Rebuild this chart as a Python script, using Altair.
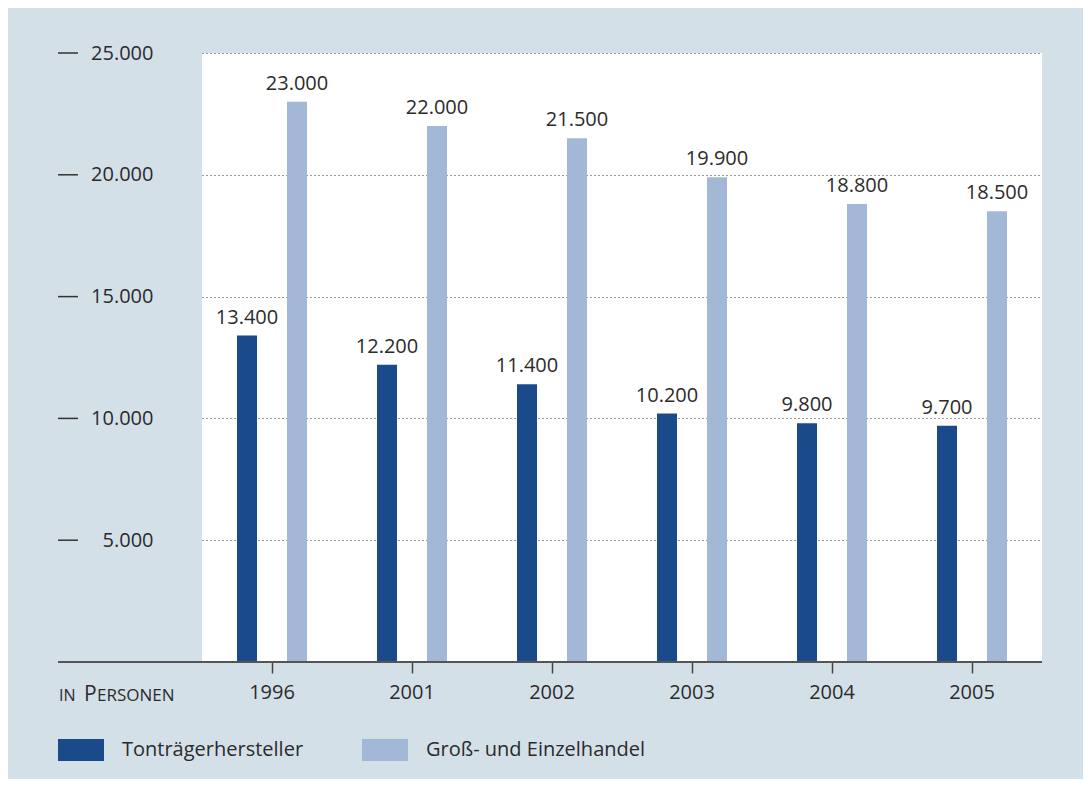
import altair as alt
import pandas as pd

years = ["1996", "2001", "2002", "2003", "2004", "2005"]
series = ["Tonträgerhersteller", "Groß- und Einzelhandel"]
producers = [13400, 12200, 11400, 10200, 9800, 9700]
retail = [23000, 22000, 21500, 19900, 18800, 18500]
y_ticks = [5000, 10000, 15000, 20000, 25000]
colors = ["#1b4a8a", "#a3b8d6"]

FONT = "Open Sans"
TXT = "#2b2b2b"
FS = 20


def de(n):
    return f"{n:,}".replace(",", ".")


rows = []
for i, yr in enumerate(years):
    rows.append({"year": yr, "series": series[0], "value": producers[i], "label": de(producers[i])})
    rows.append({"year": yr, "series": series[1], "value": retail[i], "label": de(retail[i])})
df = pd.DataFrame(rows)

x = alt.X(
    "year:N", sort=years,
    scale=alt.Scale(paddingInner=0, paddingOuter=0),
    axis=alt.Axis(title=None, labelAngle=0, domain=False, ticks=True, tickSize=11,
                  tickColor="#444", tickWidth=1.5, labelPadding=9, labelFontSize=FS,
                  labelFont=FONT, labelColor=TXT, grid=False),
)
xo = alt.XOffset("series:N", sort=series, scale=alt.Scale(paddingInner=0.6, paddingOuter=0.7))
y = alt.Y(
    "value:Q",
    scale=alt.Scale(domain=[0, 25000], nice=False, zero=True),
    axis=alt.Axis(title=None, values=y_ticks, ticks=False, domain=False, labelPadding=49,
                  labelFontSize=FS, labelFont=FONT, labelColor=TXT,
                  labelExpr="replace(format(datum.value, ','), ',', '.')",
                  grid=True, gridDash=[1, 3], gridColor="#333", gridWidth=1),
)
color = alt.Color(
    "series:N", sort=series,
    scale=alt.Scale(domain=series, range=colors),
    legend=alt.Legend(title=None, orient="none", legendX=-144, legendY=674,
                      direction="horizontal", symbolType="M-1,-0.478H1V0.478H-1Z",
                      symbolSize=2116, symbolStrokeWidth=0, symbolOpacity=1,
                      labelFontSize=FS, labelFont=FONT, labelColor=TXT,
                      labelOffset=18, columnPadding=58, padding=0, labelLimit=400),
)

base = alt.Chart(df)
bars = base.mark_bar().encode(x=x, xOffset=xo, y=y, color=color)
labels = base.mark_text(baseline="alphabetic", dy=-12, fontSize=FS, font=FONT, color=TXT).encode(
    x=x, xOffset=xo, y=y, text="label:N"
)

dash_df = pd.DataFrame({"value": y_ticks})
dashes = alt.Chart(dash_df).mark_rule(color="#333", strokeWidth=1.5).encode(
    y=alt.Y("value:Q"), x=alt.value(-144), x2=alt.value(-124)
)

one = pd.DataFrame({"v": [0]})
axis_line = alt.Chart(one).mark_rule(color="#555", strokeWidth=2).encode(
    x=alt.value(-144), x2=alt.value(840), y=alt.value(609)
)
t1 = alt.Chart(one).mark_text(align="left", baseline="alphabetic", font=FONT, color=TXT, fontSize=16).encode(
    x=alt.value(-143), y=alt.value(648), text=alt.value("IN")
)
t2 = alt.Chart(one).mark_text(align="left", baseline="alphabetic", font=FONT, color=TXT, fontSize=21).encode(
    x=alt.value(-118), y=alt.value(648), text=alt.value("P")
)
t3 = alt.Chart(one).mark_text(align="left", baseline="alphabetic", font=FONT, color=TXT, fontSize=17).encode(
    x=alt.value(-105), y=alt.value(648), text=alt.value("ERSONEN")
)

chart = (
    alt.layer(bars, labels, dashes, axis_line, t1, t2, t3)
    .properties(
        width=840, height=609,
        padding={"left": 194, "top": 45, "right": 41, "bottom": 117},
        autosize=alt.AutoSizeParams(type="none"),
        background="#d4e0e8",
    )
    .configure_view(fill="white", stroke=None)
)

chart.save("out.html", embed_options={"renderer": "svg", "actions": False})
